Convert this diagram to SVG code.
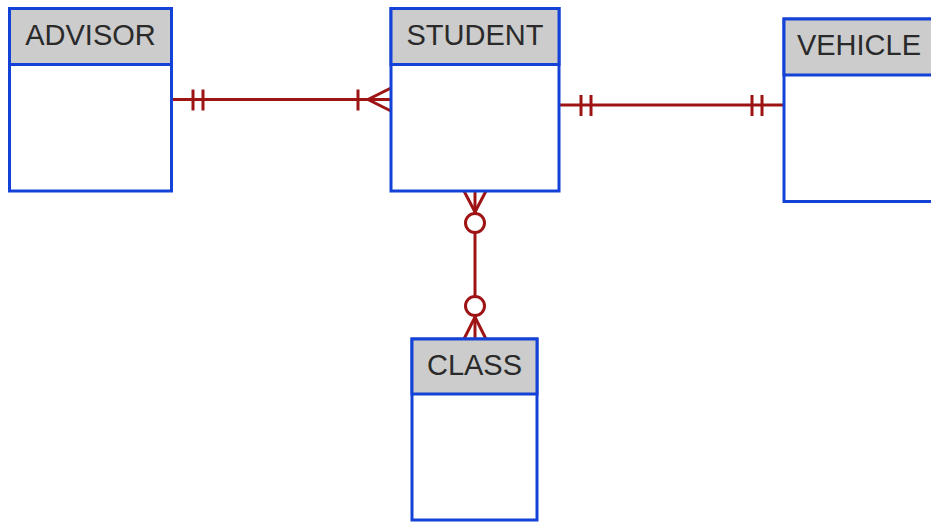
<svg xmlns="http://www.w3.org/2000/svg" width="931" height="522" viewBox="0 0 931 522">
<style>
.box{fill:#ffffff;stroke:#1442d6;stroke-width:3}
.hdr{fill:#cccccc;stroke:#1442d6;stroke-width:3}
.lbl{font-family:"Liberation Sans",Arial,sans-serif;font-size:29px;fill:#2a2a2a;text-anchor:middle}
.rel{fill:none;stroke:#9e1414;stroke-width:3}
.circ{fill:#ffffff;stroke:#9e1414;stroke-width:3}
</style>
<rect width="931" height="522" fill="#ffffff"/>
<g id="connectors">
  <g id="advisor-student">
    <line class="rel" x1="171.5" y1="99.5" x2="391" y2="99.5"/>
    <line class="rel" x1="193" y1="89.5" x2="193" y2="110.5"/>
    <line class="rel" x1="203" y1="89.5" x2="203" y2="110.5"/>
    <line class="rel" x1="358" y1="89.5" x2="358" y2="110.5"/>
    <polyline class="rel" points="391,88 368,99.5 391,111"/>
  </g>
  <g id="student-vehicle">
    <line class="rel" x1="559" y1="105" x2="784" y2="105"/>
    <line class="rel" x1="581" y1="95" x2="581" y2="116"/>
    <line class="rel" x1="591" y1="95" x2="591" y2="116"/>
    <line class="rel" x1="752" y1="95" x2="752" y2="116"/>
    <line class="rel" x1="762" y1="95" x2="762" y2="116"/>
  </g>
  <g id="student-class">
    <line class="rel" x1="475" y1="191" x2="475" y2="339"/>
    <polyline class="rel" points="464,191 475,212 486,191"/>
    <circle class="circ" cx="475" cy="223" r="9.5"/>
    <circle class="circ" cx="475" cy="306" r="9.5"/>
    <polyline class="rel" points="464,339 475,317 486,339"/>
  </g>
</g>
<g id="advisor">
  <rect class="box" x="9.5" y="8.5" width="162" height="182.5"/>
  <rect class="hdr" x="9.5" y="8.5" width="162" height="56"/>
  <text class="lbl" x="90.5" y="45">ADVISOR</text>
</g>
<g id="student">
  <rect class="box" x="391" y="8.5" width="168" height="182.5"/>
  <rect class="hdr" x="391" y="8.5" width="168" height="56"/>
  <text class="lbl" x="475" y="45">STUDENT</text>
</g>
<g id="vehicle">
  <rect class="box" x="784" y="19" width="150" height="182.5"/>
  <rect class="hdr" x="784" y="19" width="150" height="56"/>
  <text class="lbl" x="859" y="55">VEHICLE</text>
</g>
<g id="class">
  <rect class="box" x="412" y="339" width="125" height="181"/>
  <rect class="hdr" x="412" y="339" width="125" height="55"/>
  <text class="lbl" x="474.5" y="375">CLASS</text>
</g>
</svg>
